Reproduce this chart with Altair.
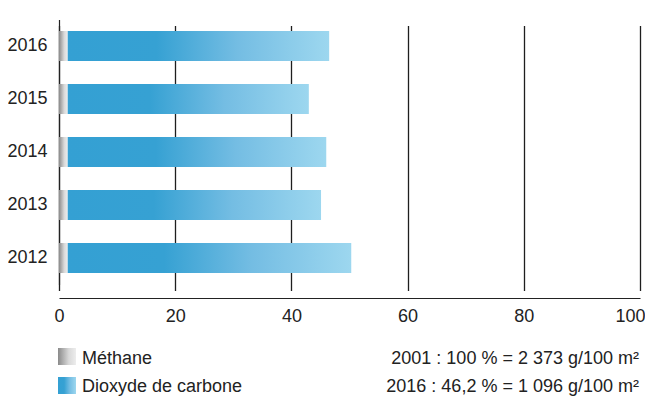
import altair as alt
import pandas as pd

years = ["2016", "2015", "2014", "2013", "2012"]
methane = [1.5, 1.5, 1.5, 1.5, 1.5]
totals = [46.5, 43.0, 46.0, 45.1, 50.3]
x_ticks = [0, 20, 40, 60, 80, 100]
legend_names = ["Méthane", "Dioxyde de carbone"]
legend_notes = ["2001 : 100 % = 2 373 g/100 m²", "2016 : 46,2 % = 1 096 g/100 m²"]

df = pd.DataFrame({"year": years, "methane": methane, "total": totals})
df["zero"] = 0

FONT = "Liberation Sans"
FS = 18
W, H = 581, 286

gray_grad = alt.Gradient(
    gradient="linear", x1=0, x2=1, y1=0, y2=0,
    stops=[alt.GradientStop(color="#8a8a8a", offset=0),
           alt.GradientStop(color="#d9d9d9", offset=0.6),
           alt.GradientStop(color="#ededed", offset=1)])
blue_grad = alt.Gradient(
    gradient="linear", x1=0, x2=1, y1=0, y2=0,
    stops=[alt.GradientStop(color="#34a0d3", offset=0),
           alt.GradientStop(color="#36a1d3", offset=0.34),
           alt.GradientStop(color="#74bde3", offset=0.65),
           alt.GradientStop(color="#9dd7ef", offset=1)])

yscale = alt.Scale(domain=years, range=[7.5, 272.5], paddingInner=0.434, paddingOuter=0.217)
xscale = alt.Scale(domain=[0, 100], nice=False)

base = alt.Chart(df)

meth = base.mark_bar(color=gray_grad, cornerRadius=0).encode(
    y=alt.Y("year:N", scale=yscale, sort=years, title=None,
            axis=alt.Axis(labelFont=FONT, labelFontSize=FS, labelColor="#222",
                          ticks=False, labelPadding=12, domain=True,
                          domainColor="#222", domainWidth=1.2, grid=False)),
    x=alt.X("zero:Q", scale=xscale, title=None,
            axis=alt.Axis(values=x_ticks, labelFont=FONT, labelFontSize=FS,
                          labelColor="#222", ticks=False, labelPadding=9,
                          domainColor="#222", domainWidth=1.2,
                          grid=True, gridColor="#1e1e1e", gridWidth=1.3,
                          labelFlush=False,
                          labelAlign=alt.expr("datum.value == 100 ? 'right' : 'center'"),
                          labelOffset=alt.expr("datum.value == 100 ? 5 : 0"))),
    x2="methane:Q",
)

co2 = base.mark_bar(color=blue_grad).encode(
    y=alt.Y("year:N", scale=yscale, sort=years),
    x=alt.X("methane:Q", scale=xscale),
    x2="total:Q",
)

leg = pd.DataFrame({"name": legend_names, "note": legend_notes,
                    "row": [0, 1]})

sw1 = alt.Chart(leg.iloc[[0]]).mark_rect(color=gray_grad).encode(
    x=alt.value(-1), x2=alt.value(17), y=alt.value(336), y2=alt.value(353))
sw2 = alt.Chart(leg.iloc[[1]]).mark_rect(color=blue_grad).encode(
    x=alt.value(-1), x2=alt.value(17), y=alt.value(365), y2=alt.value(382))

t1 = alt.Chart(leg.iloc[[0]]).mark_text(
    font=FONT, fontSize=FS, color="#222", align="left", baseline="alphabetic"
).encode(text="name:N", x=alt.value(23), y=alt.value(352))
t2 = alt.Chart(leg.iloc[[1]]).mark_text(
    font=FONT, fontSize=FS, color="#222", align="left", baseline="alphabetic"
).encode(text="name:N", x=alt.value(23), y=alt.value(380))
n1 = alt.Chart(leg.iloc[[0]]).mark_text(
    font=FONT, fontSize=FS, color="#222", align="right", baseline="alphabetic"
).encode(text="note:N", x=alt.value(580), y=alt.value(352))
n2 = alt.Chart(leg.iloc[[1]]).mark_text(
    font=FONT, fontSize=FS, color="#222", align="right", baseline="alphabetic"
).encode(text="note:N", x=alt.value(580), y=alt.value(380))

chart = alt.layer(meth, co2, sw1, sw2, t1, t2, n1, n2).properties(
    width=W, height=H,
    autosize=alt.AutoSizeParams(type="none"),
    padding={"left": 51, "top": 4, "right": 5, "bottom": 99},
    background="white",
).configure_view(stroke=None)

chart.save("out.html", embed_options={"renderer": "svg", "actions": False})
